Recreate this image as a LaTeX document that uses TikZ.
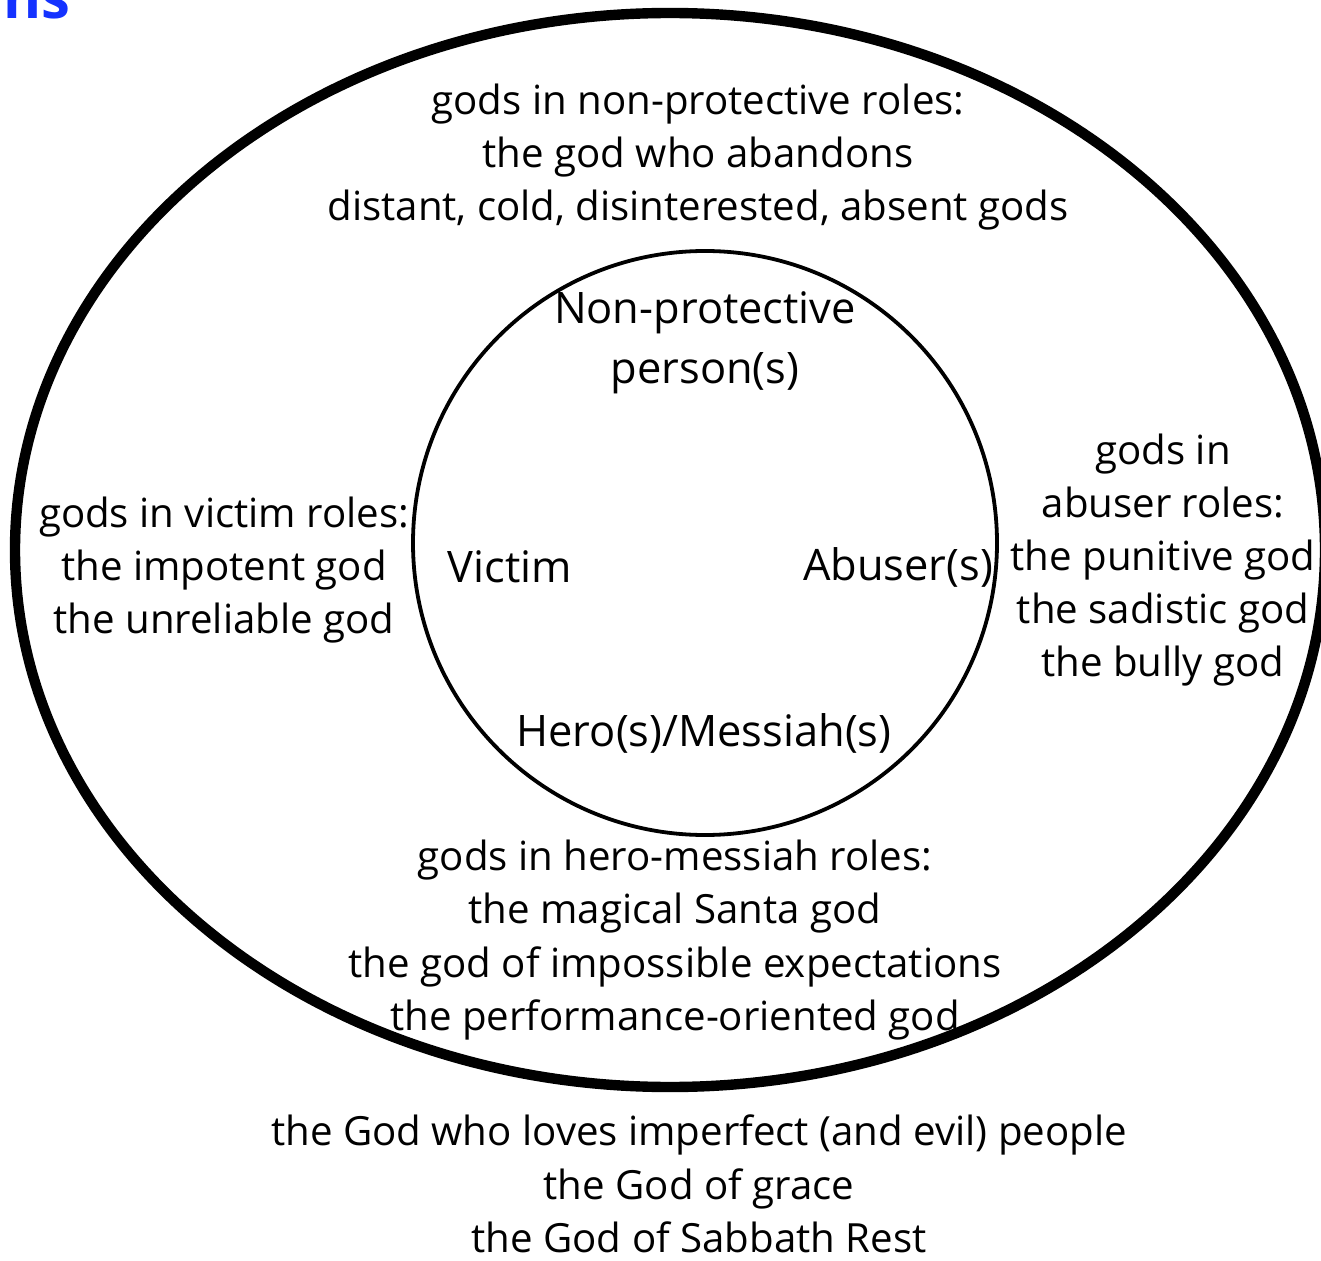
\documentclass[tikz,border=0pt]{standalone}
\usepackage{fontspec}
\setmainfont{Open Sans}
\usetikzlibrary{positioning}
\definecolor{titleblue}{RGB}{20,50,255}

\begin{document}
\begin{tikzpicture}[x=0.5pt, y=-0.5pt]
			\tikzstyle{Ring}	= [draw, line width=5.2pt]
			\tikzstyle{Core}	= [draw, line width=1.9pt]
			\tikzstyle{Outer}	= [align=center, inner sep=0pt, font=\fontsize{20.1}{26.6}\selectfont]
			\tikzstyle{Inner}	= [align=center, inner sep=0pt, font=\fontsize{21.7}{30}\selectfont]
			\tikzstyle{Title}	= [inner sep=0pt, text=titleblue, font=\bfseries\fontsize{29}{34}\selectfont]
			
			\useasboundingbox (0,0) rectangle (1321,1261);
			\clip (0,0) rectangle (1321,1261);
			
			\node (title) at (3,19) [Title][anchor=base west] {ns};
			
			\draw [Ring] (670,550) ellipse [x radius=655, y radius=537];
			\draw [Core] (705,543) circle [radius=292];
			
			\node (nonprot) at (705,343) [Inner] {Non-protective\\person(s)};
			\node (victim) at (510,567) [Inner] {Victim};
			\node (abuser) at (898,567) [Inner] {Abuser(s)};
			\node (hero) at (704,733) [Inner] {Hero(s)/Messiah(s)};
			
			\node (godsnp) at (698,157) [Outer] {gods in non-protective roles:\\the god who abandons\\distant, cold, disinterested, absent gods};
			\node (godsvic) at (224,570) [Outer] {gods in victim roles:\\the impotent god\\the unreliable god};
			\node (godsab) at (1163,560) [Outer] {gods in\\abuser roles:\\the punitive god\\the sadistic god\\the bully god};
			\node (godshero) at (675,940) [Outer] {gods in hero-messiah roles:\\the magical Santa god\\the god of impossible expectations\\the performance-oriented god};
			\node (god) at (699,1184) [Outer] {the God who loves imperfect (and evil) people\\the God of grace\\the God of Sabbath Rest};
		\end{tikzpicture}
\end{document}
